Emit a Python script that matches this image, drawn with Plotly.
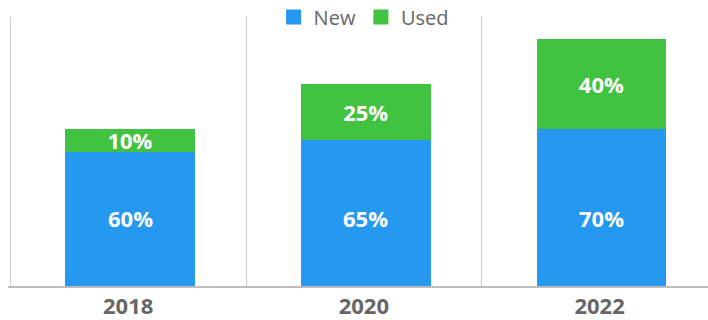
import plotly.graph_objects as go

years = ["2018", "2020", "2022"]
new_vals = [60, 65, 70]
used_vals = [10, 25, 40]
series_names = ["New", "Used"]

BLUE = "#2598F0"
GREEN = "#41C241"
FONT = "Open Sans"
LABEL_FONT = dict(family=FONT, size=22, color="white", weight="bold")

fig = go.Figure()
fig.add_trace(go.Bar(
    name=series_names[0], x=years, y=new_vals, marker=dict(color=BLUE, line=dict(width=0)),
    width=0.55, offset=-0.267, showlegend=False, textposition="none",
))
fig.add_trace(go.Bar(
    name=series_names[1], x=years, y=used_vals, marker=dict(color=GREEN, line=dict(width=0)),
    texttemplate="%{y}%", textposition="inside", insidetextanchor="middle",
    textangle=0, constraintext="none", textfont=LABEL_FONT,
    width=0.55, offset=-0.267, showlegend=False,
))
# "New" labels sit at a common height (centre of the smallest New bar)
label_y = min(new_vals) / 2
for i, v in enumerate(new_vals):
    fig.add_annotation(x=i, y=label_y, xref="x", yref="y", text=f"{v}%",
                       showarrow=False, font=LABEL_FONT, xshift=2, yshift=1)

# legend entries with 15px squares
for name, col in [(series_names[0], BLUE), (series_names[1], GREEN)]:
    fig.add_trace(go.Scatter(
        name=name, x=[None], y=[None], mode="markers",
        marker=dict(symbol="square", size=15, color=col, line=dict(width=0)),
        showlegend=True,
    ))

S = 235.7
x0 = -0.5 - 2.3 / S
fig.update_layout(
    width=708, height=320,
    barmode="stack",
    margin=dict(l=8, r=0, t=17, b=34, autoexpand=False),
    paper_bgcolor="white", plot_bgcolor="white",
    font=dict(family=FONT, color="#666666"),
    showlegend=True,
    legend=dict(orientation="h", x=0.508, xanchor="center", y=1.0, yanchor="middle",
                font=dict(family=FONT, size=20, color="#666666"),
                bgcolor="rgba(0,0,0,0)", itemwidth=30, traceorder="normal",
                itemsizing="trace"),
    xaxis=dict(
        type="category", range=[x0, x0 + 700 / S], automargin=False,
        tickson="boundaries", showgrid=True, gridcolor="#cccccc", gridwidth=1,
        ticks="", showline=True, linecolor="#bdbdbd", linewidth=2,
        tickfont=dict(family=FONT, size=22, color="#666666", weight="bold"),
        ticklabelstandoff=0,
        zeroline=False,
    ),
    yaxis=dict(range=[0, 120], showgrid=False, showticklabels=False, zeroline=False,
               showline=False, ticks="", automargin=False),
)

fig.write_html("out.html")
